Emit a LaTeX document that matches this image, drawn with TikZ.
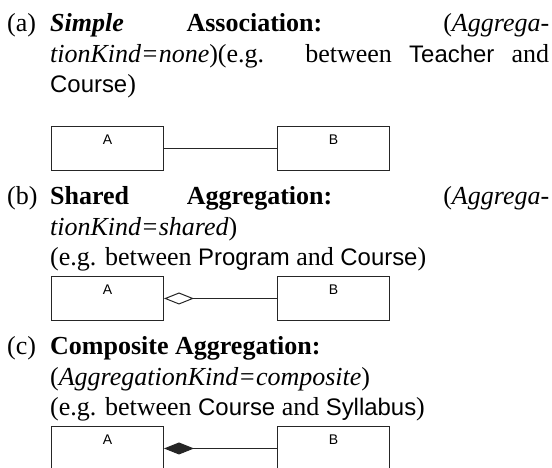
\documentclass[tikz,border=0pt]{standalone}
\usepackage{fontspec}
\setmainfont{Liberation Serif}
\setsansfont{Liberation Sans}[Scale=0.92]
\newfontfamily\boxfont{Liberation Sans}
\usetikzlibrary{arrows.meta}
\begin{document}
\begin{tikzpicture}[x=1pt,y=1pt,
  item/.style={inner sep=0pt, anchor=base west, font=\fontsize{26}{30.5}\selectfont},
  cls/.style={draw=black!85, line width=1pt, minimum width=112pt, minimum height=44pt, inner sep=0pt, anchor=north west},
  lbl/.style={font=\boxfont\fontsize{14}{14}\selectfont, inner sep=0pt, anchor=base},
  assoc/.style={draw=black!85, line width=1pt}]
\useasboundingbox (0,0) rectangle (552,468);
\clip (0,0) rectangle (552,468);
% (a)
\node[item] (la) at (7,436) {(a)};
\node[item] (ta) at (50,436) {\parbox[t]{499pt}{\textbf{\textit{Simple} Association:} (\textit{Aggrega-}\linebreak\textit{tionKind=none})(e.g. between \textsf{Teacher} and\linebreak\textsf{Course})}};
\node[cls] (a1) at (51,342) {};
\node[cls] (b1) at (277,342) {};
\node[lbl] (a1l) at ([yshift=-19pt]a1.north) {A};
\node[lbl] (b1l) at ([yshift=-19pt]b1.north) {B};
\draw[assoc] (a1.east) -- (b1.west);
% (b)
\node[item] (lb) at (7,263) {(b)};
\node[item] (tb) at (50,263) {\parbox[t]{499pt}{\textbf{Shared Aggregation:} (\textit{Aggrega-}\linebreak\textit{tionKind=shared})\\(e.g. between \textsf{Program} and \textsf{Course})}};
\node[cls] (a2) at (51,192) {};
\node[cls] (b2) at (277,192) {};
\node[lbl] (a2l) at ([yshift=-19pt]a2.north) {A};
\node[lbl] (b2l) at ([yshift=-19pt]b2.north) {B};
\draw[assoc, {Diamond[open, fill=white, length=30pt, width=12pt]}-] (a2.east) -- (b2.west);
% (c)
\node[item] (lc) at (7,113) {(c)};
\node[item] (tc) at (50,113) {\parbox[t]{499pt}{\textbf{Composite Aggregation:}\\(\textit{AggregationKind=composite})\\(e.g. between \textsf{Course} and \textsf{Syllabus})}};
\node[cls] (a3) at (51,42) {};
\node[cls] (b3) at (277,42) {};
\node[lbl] (a3l) at ([yshift=-19pt]a3.north) {A};
\node[lbl] (b3l) at ([yshift=-19pt]b3.north) {B};
\draw[assoc, {Diamond[length=30pt, width=12pt]}-] (a3.east) -- (b3.west);
\end{tikzpicture}
\end{document}
